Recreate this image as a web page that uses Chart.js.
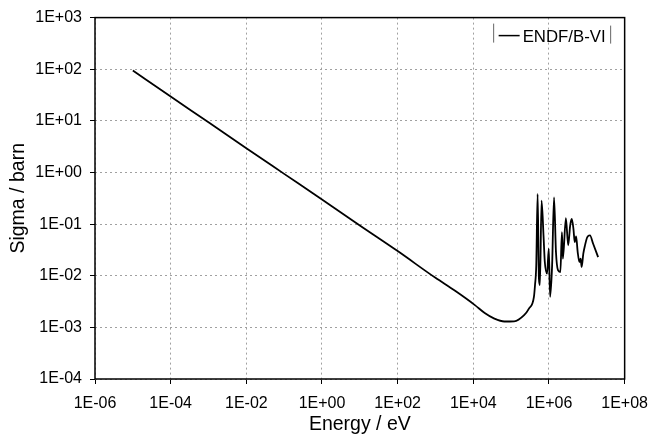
<!DOCTYPE html>
<html>
<head>
<meta charset="utf-8">
<script src="https://cdn.jsdelivr.net/npm/chart.js@4.4.1/dist/chart.umd.min.js"></script>
<style>
  body { margin: 0; background: #fff; }
</style>
</head>
<body>
<canvas id="xsChart" width="658" height="441"></canvas>
<script>
// neutron energy (eV) and cross section (barn)
var energy = [1e-5, 1e-4, 1e-3, 1e-2, 1e-1, 1, 10, 100, 1000,
  3.3e3, 1.1e4, 2.0e4, 3.6e4, 6.6e4, 1.2e5, 2.2e5, 2.95e5, 4.0e5,
  4.27e5, 4.61e5, 5.01e5, 5.42e5, 5.76e5, 6.37e5, 7.17e5, 7.76e5, 8.91e5, 9.88e5,
  1.07e6, 1.21e6, 1.36e6, 1.53e6, 1.73e6, 2.0e6, 2.2e6, 2.33e6, 2.8e6,
  3.22e6, 3.63e6, 4.0e6, 4.43e6, 4.8e6, 5.21e6, 5.74e6, 6.36e6, 6.87e6, 7.3e6, 8.08e6,
  8.95e6, 1.03e7, 1.21e7, 1.47e7, 1.99e7];
var sigma = [94, 29.5, 9.4, 2.95, 0.94, 0.30, 0.094, 0.030, 0.0091,
  0.0051, 0.0027, 0.0019, 0.00148, 0.00130, 0.00131, 0.00172, 0.0023, 0.0039,
  0.00656, 0.0159, 0.384, 0.00883, 0.00656, 0.285, 0.0603, 0.0185, 0.0110, 0.0334,
  0.00391, 0.0159, 0.330, 0.0288, 0.0128, 0.0118, 0.0698, 0.0214, 0.13,
  0.0387, 0.094, 0.126, 0.081, 0.0448, 0.058, 0.0288, 0.0185, 0.0214, 0.0148, 0.0268,
  0.0387, 0.056, 0.0603, 0.0417, 0.0230];
var xTicks = ['1E-06', '1E-04', '1E-02', '1E+00', '1E+02', '1E+04', '1E+06', '1E+08'];
var yTicks = ['1E-04', '1E-03', '1E-02', '1E-01', '1E+00', '1E+01', '1E+02', '1E+03'];
var seriesName = 'ENDF/B-VI';

var points = energy.map(function(e, i) { return {x: e, y: sigma[i]}; });

var font = "'Liberation Sans', Arial, sans-serif";

function tickSetter(labels) {
  return function(axis) {
    axis.ticks = labels.map(function(l) { return {value: Number(l)}; });
  };
}

var gridStyle = {
  color: '#a0a0a0',
  tickLength: 5,
  tickColor: '#000',
  tickBorderDash: []
};

// box round the plot plus the little key at top right
var frameAndKey = {
  id: 'frameAndKey',
  afterDraw: function(chart) {
    var ctx = chart.ctx, a = chart.chartArea;
    ctx.save();
    ctx.strokeStyle = '#000';
    ctx.lineWidth = 1.5;
    ctx.strokeRect(a.left, a.top, a.right - a.left, a.bottom - a.top);

    var ds = chart.data.datasets[0];
    var kx = a.right - 131, ky = a.top + 18;
    ctx.strokeStyle = '#666';
    ctx.lineWidth = 1;
    ctx.beginPath();
    ctx.moveTo(kx, ky - 12); ctx.lineTo(kx, ky + 7);
    ctx.moveTo(kx + 117, ky - 10); ctx.lineTo(kx + 117, ky + 8);
    ctx.stroke();
    ctx.strokeStyle = ds.borderColor;
    ctx.lineWidth = 1.5;
    ctx.beginPath();
    ctx.moveTo(kx + 5, ky); ctx.lineTo(kx + 26, ky);
    ctx.stroke();
    ctx.fillStyle = '#000';
    ctx.font = '16.8px ' + font;
    ctx.textBaseline = 'alphabetic';
    ctx.fillText(ds.label, kx + 29, ky + 6.5);
    ctx.restore();
  }
};

new Chart(document.getElementById('xsChart'), {
  type: 'line',
  data: {
    datasets: [{
      label: seriesName,
      data: points,
      borderColor: '#000',
      borderWidth: 1.8,
      pointRadius: 0,
      fill: false,
      cubicInterpolationMode: 'monotone'
    }]
  },
  options: {
    responsive: false,
    animation: false,
    layout: { padding: { left: 0, right: 26, top: 16, bottom: 0 } },
    plugins: { legend: { display: false }, tooltip: { enabled: false } },
    scales: {
      x: {
        type: 'logarithmic',
        min: 1e-6,
        max: 1e8,
        afterBuildTicks: tickSetter(xTicks),
        afterFit: function(s) { s.height = 62; },
        border: { display: false, dash: [2, 3] },
        grid: gridStyle,
        ticks: {
          autoSkip: false,
          maxRotation: 0,
          padding: 10,
          color: '#000',
          font: { family: font, size: 16 },
          callback: function(v, i) { return xTicks[i]; }
        },
        title: {
          display: true,
          text: 'Energy / eV',
          color: '#000',
          font: { family: font, size: 19.5 },
          padding: { top: 0, bottom: 5 }
        }
      },
      y: {
        type: 'logarithmic',
        min: 1e-4,
        max: 1e3,
        afterBuildTicks: tickSetter(yTicks),
        afterFit: function(s) { s.width = 95; },
        border: { display: false, dash: [2, 3] },
        grid: gridStyle,
        ticks: {
          autoSkip: false,
          padding: 8,
          color: '#000',
          font: { family: font, size: 16 },
          callback: function(v, i) { return yTicks[i]; }
        },
        title: {
          display: true,
          text: 'Sigma / barn',
          color: '#000',
          font: { family: font, size: 19.5 },
          padding: { top: 7, bottom: 0 }
        }
      }
    }
  },
  plugins: [frameAndKey]
});
</script>
</body>
</html>
